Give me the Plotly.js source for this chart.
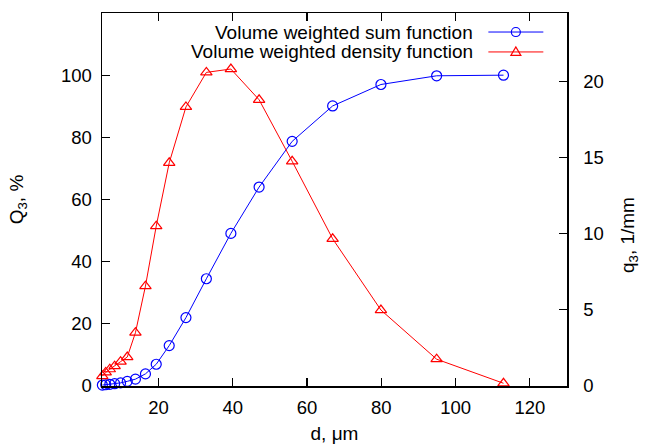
<!DOCTYPE html>
<html>
<head>
<meta charset="utf-8">
<script src="https://cdn.plot.ly/plotly-3.0.1.min.js"></script>
<style>html,body{margin:0;padding:0;background:#fff;}#chart{width:646px;height:444px;}</style>
</head>
<body>
<div id="chart"></div>
<script>
// Particle size, µm
var sizes = [4.9, 5.8, 6.9, 8.2, 9.8, 11.6, 13.8, 16.5, 19.4, 22.9, 27.4, 32.9, 39.5, 47.1, 56.0, 66.9, 79.9, 94.9, 112.9];
// Volume weighted sum function Q3, %
var sumQ3 = [0.3, 0.4, 0.55, 0.75, 1.0, 1.5, 2.2, 3.9, 7.0, 13.0, 22.0, 34.5, 49.1, 64.0, 78.7, 90.1, 97.0, 99.8, 100.0];
// Volume weighted density function q3, 1/mm
var densQ3 = [0.65, 0.89, 1.1, 1.3, 1.6, 1.9, 3.5, 6.56, 10.5, 14.66, 18.33, 20.6, 20.82, 18.8, 14.76, 9.67, 4.99, 1.76, 0.18];

var seriesNames = ["Volume weighted sum function", "Volume weighted density function"];
var xTicks = [20, 40, 60, 80, 100, 120];
var yTicks = [0, 20, 40, 60, 80, 100];
var y2Ticks = [0, 5, 10, 15, 20];

var FONT = "Liberation Sans, Arial, Helvetica, sans-serif";
var BLUE = "#0000ff", RED = "#ff0000";

var traces = [
  {x: sizes, y: sumQ3, type: "scatter", mode: "lines+markers", name: seriesNames[0],
   line: {color: BLUE, width: 1}, marker: {symbol: "circle-open", size: 10, color: BLUE, line: {width: 1.2, color: BLUE}},
   yaxis: "y", showlegend: false, cliponaxis: false},
  {x: sizes, y: densQ3, type: "scatter", mode: "lines+markers", name: seriesNames[1],
   line: {color: RED, width: 1}, marker: {symbol: "triangle-up-open", size: 10, color: RED, line: {width: 1.2, color: RED}},
   yaxis: "y2", showlegend: false, cliponaxis: false}
];

// manual legend (text right-aligned, sample on the right, like the reference)
var legX = 0.8028, legRows = [0.949, 0.8956], sampleX0 = 0.8309, sampleX1 = 0.9491, sampleMid = 0.890;
var shapes = [
  {type: "line", xref: "paper", yref: "paper", x0: sampleX0, x1: sampleX1, y0: legRows[0], y1: legRows[0], line: {color: BLUE, width: 1}},
  {type: "line", xref: "paper", yref: "paper", x0: sampleX0, x1: sampleX1, y0: legRows[1], y1: legRows[1], line: {color: RED, width: 1}},
  {type: "circle", xref: "paper", yref: "paper", xsizemode: "pixel", ysizemode: "pixel", xanchor: sampleMid, yanchor: legRows[0],
   x0: -4.5, x1: 4.5, y0: -4.5, y1: 4.5, line: {color: BLUE, width: 1.2}, fillcolor: "rgba(0,0,0,0)"},
  {type: "path", xref: "paper", yref: "paper", xsizemode: "pixel", ysizemode: "pixel", xanchor: sampleMid, yanchor: legRows[1],
   path: "M-5,-3.5 L5,-3.5 L0,5 Z", line: {color: RED, width: 1.2}, fillcolor: "rgba(0,0,0,0)"}
];

var annotations = [
  {xref: "paper", yref: "paper", x: legX, y: legRows[0], xanchor: "right", yanchor: "middle", showarrow: false,
   text: seriesNames[0], font: {family: FONT, size: 19, color: "#000"}},
  {xref: "paper", yref: "paper", x: legX, y: legRows[1], xanchor: "right", yanchor: "middle", showarrow: false,
   text: seriesNames[1], font: {family: FONT, size: 19, color: "#000"}},
  {xref: "paper", yref: "paper", x: 1.132, y: 0.4056, xanchor: "center", yanchor: "middle", showarrow: false, textangle: -90,
   text: "q<sub>3</sub>, 1/mm", font: {family: FONT, size: 19, color: "#000"}}
];

var layout = {
  width: 646, height: 444,
  margin: {l: 101.7, r: 79.3, t: 13, b: 57.5, pad: 0},
  paper_bgcolor: "#fff", plot_bgcolor: "#fff",
  font: {family: FONT, size: 18.5, color: "#000"},
  showlegend: false,
  xaxis: {
    range: [4.8, 130], tickvals: xTicks, ticktext: xTicks.map(String),
    ticks: "inside", ticklen: 8, tickwidth: 1.2, tickcolor: "#000",
    showline: true, linecolor: "#000", linewidth: 1.5, mirror: "ticks",
    showgrid: false, zeroline: false, ticklabelstandoff: 4,
    title: {text: "d, μm", font: {family: FONT, size: 19}, standoff: 13}
  },
  yaxis: {
    range: [0, 120], tickvals: yTicks, ticktext: yTicks.map(String),
    ticks: "inside", ticklen: 8, tickwidth: 1.2, tickcolor: "#000",
    showline: true, linecolor: "#000", linewidth: 1.5,
    showgrid: false, zeroline: false, ticklabelstandoff: 5,
    title: {text: "Q<sub>3</sub>, %", font: {family: FONT, size: 19}, standoff: 32}
  },
  yaxis2: {
    overlaying: "y", side: "right", range: [0, 24.5], tickvals: y2Ticks, ticktext: y2Ticks.map(String),
    ticks: "inside", ticklen: 8, tickwidth: 1.2, tickcolor: "#000",
    showline: true, linecolor: "#000", linewidth: 1.5,
    showgrid: false, zeroline: false, ticklabelstandoff: 11
  },
  shapes: shapes,
  annotations: annotations
};

Plotly.newPlot("chart", traces, layout, {displayModeBar: false, staticPlot: true});
</script>
</body>
</html>
